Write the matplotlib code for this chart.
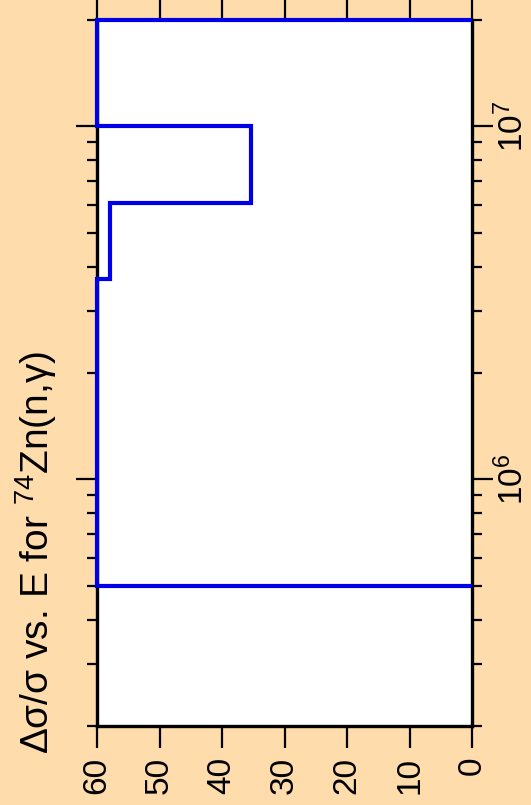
import numpy as np
import matplotlib
matplotlib.use('Agg')
import matplotlib.pyplot as plt

# Δσ/σ (%) per energy bin, energy bin edges in eV
edges = [5e5, 3.7e6, 6.05e6, 1e7, 2e7]
dsig = [60, 57.9, 35.4, 60]

xticks = [0, 10, 20, 30, 40, 50, 60]
eticks = [1e6, 1e7]
elabels = ['$10^{6}$', '$10^{7}$']
title = 'Δσ/σ vs. E for $^{74}$Zn(n,γ)'

plt.rcParams['font.family'] = ['Liberation Sans', 'DejaVu Sans']
plt.rcParams['mathtext.fontset'] = 'custom'
plt.rcParams['mathtext.rm'] = 'Liberation Sans'
plt.rcParams['mathtext.default'] = 'regular'

bg = '#fedcab'
fig = plt.figure(figsize=(5.31, 8.05), dpi=100, facecolor=bg)
ax = fig.add_axes([97/531, 79/805, 375/531, 706/805])

# chart is drawn rotated: energy runs upward, Δσ/σ runs right-to-left
ax.stairs(dsig, edges, orientation='horizontal', baseline=0,
          color='#0000e6', lw=3, clip_on=False, zorder=3)

ax.set_yscale('log')
ax.set_ylim(2e5, 2e7)
ax.set_xlim(60, 0)

ax.set_xticks(xticks)
ax.set_xticklabels([str(v) for v in xticks], rotation=90, fontsize=24)
ax.tick_params(axis='x', which='major', direction='out', length=16, width=1.6,
               top=True, bottom=True, pad=6)
ax.tick_params(axis='x', which='minor', bottom=False, top=False)

ax.set_yticks(eticks)
ax.set_yticklabels(elabels, rotation=90, fontsize=24, va='center')
ax.tick_params(axis='y', which='major', direction='out', length=15, width=1.6,
               left=True, right=True, labelleft=False, labelright=True, pad=2)
ax.tick_params(axis='y', which='minor', direction='out', length=7, width=1.6,
               left=True, right=True, labelleft=False, labelright=False)

for side in ['left', 'right', 'bottom']:
    ax.spines[side].set_linewidth(2.4)
ax.spines['top'].set_linewidth(1.2)

fig.text(36/531, 1 - 552/805, title, rotation=90, ha='center', va='center',
         fontsize=28)

fig.savefig('out.png', dpi=100, facecolor=bg)
